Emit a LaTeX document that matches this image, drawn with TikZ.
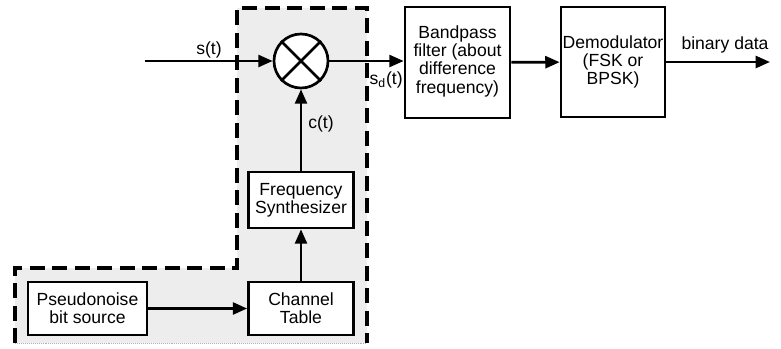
\documentclass[tikz,border=0pt]{standalone}
\usepackage{fontspec}
\setmainfont{Liberation Sans}
\usepackage{tikz}
\usetikzlibrary{arrows.meta,positioning}
\newcommand{\blkfont}{\fontsize{12.5}{13}\selectfont}
\tikzset{
  blk/.style={rectangle, draw, line width=1.9pt, fill=white, align=center,
              font=\blkfont, inner sep=1pt, minimum width=2.625cm},
  mixer/.style={circle, draw, line width=1.9pt, fill=white, minimum size=1.35cm,
                inner sep=0pt},
  sig/.style={-{Triangle[length=3.6mm, width=3mm]}, line width=1.9pt},
  lbl/.style={font=\blkfont, inner sep=1pt},
  shade/.style={fill=gray!14},
  border/.style={line width=2.3pt, dash pattern=on 10.5pt off 5.5pt},
}
\begin{document}
\begin{tikzpicture}[x=0.025cm, y=-0.025cm]
  \useasboundingbox (0,0) rectangle (781,348);
  % shaded L-shaped region
  \fill[shade] (237,8) -- (367,8) -- (367,343) -- (15,343) -- (15,268)
               -- (237,268) -- cycle;
  \draw[border] (15,343) -- (15,268) -- (237,268) -- (237,8) -- (367,8)
               -- (367,343);
  \draw[gray!60, densely dotted] (15,343) -- (367,343);
  % blocks
  \node[mixer] (mix) at (301,61) {};
  \draw[line width=1.9pt] (mix.45) -- (mix.225) (mix.135) -- (mix.315);
  \node[blk, minimum height=2.775cm] (bpf) at (457.5,62.5)
       {\\[-6pt]Bandpass\\filter (about\\difference\\frequency)};
  \node[blk, minimum width=2.6cm, minimum height=2.75cm] (demod) at (613,62)
       {Demodulator\\(FSK or\\BPSK)};
  \node[blk, minimum height=1.4cm] (synth) at (301,200) {Frequency\\Synthesizer};
  \node[blk, minimum height=1.325cm] (chan) at (301,308.5) {Channel\\Table};
  \node[blk, minimum width=2.975cm, minimum height=1.325cm] (pn) at (87.5,308.5)
       {Pseudonoise\\bit source};
  % free ends
  \coordinate (sin) at (145,61);
  \coordinate (dout) at (770,62);
  % connectors
  \draw[sig] (sin) -- (mix);
  \draw[sig] (mix) -- (bpf.west |- mix);
  \draw[sig] (bpf) -- (demod);
  \draw[sig] (demod) -- (dout);
  \draw[sig] (pn) -- (chan);
  \draw[sig] (chan) -- (synth);
  \draw[sig] (synth) -- (mix);
  % signal labels
  \node[lbl] (st) at (209,50) {s(t)};
  \node[lbl] (ct) at (321,124) {c(t)};
  \node[lbl, anchor=west] (sdt) at (368,80) {s$_{\mathrm{d}}$(t)};
  \node[lbl] (bd) at (725,45) {binary data};
\end{tikzpicture}
\end{document}
